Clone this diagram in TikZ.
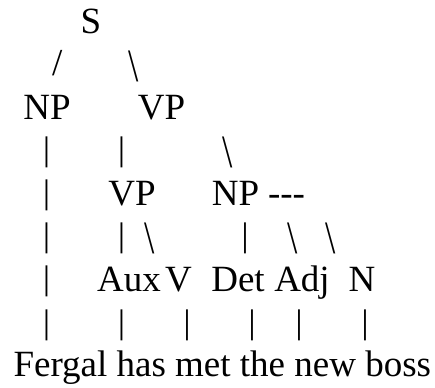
\documentclass[tikz,border=0pt]{standalone}
\usepackage{fontspec}
\usepackage{graphicx}
\setmainfont{Liberation Serif}
\newcommand{\vbar}{\resizebox*{\width}{31pt}{|}}
\newcommand{\bslash}{\resizebox*{\width}{31pt}{\textbackslash}}
\newcommand{\fslash}{\resizebox*{\width}{25.5pt}{/}}
\begin{document}
\begin{tikzpicture}[x=1pt,y=-1pt,
  every node/.style={inner sep=0pt,outer sep=0pt,anchor=base,font=\fontsize{37}{43}\selectfont},
  cat/.style={},
  link/.style={anchor=south}]
\useasboundingbox (0,0) rectangle (435,387);
% row 1
\node[cat] (S) at (91,34) {S};
% row 2
\node[link] (s-np) at (57.7,76) {\fslash};
\node[link] (s-vp) at (134,81.7) {\bslash};
% row 3
\node[cat] (NP1) at (47,120) {NP};
\node[cat] (VP1) at (161.5,120) {VP};
% row 4
\node[link] (a4) at (46.5,167.7) {\vbar};
\node[link] (b4) at (121.5,167.7) {\vbar};
\node[link] (c4) at (227.2,167.7) {\bslash};
% row 5
\node[link] (a5) at (46.5,210.8) {\vbar};
\node[cat] (VP2) at (132,205.8) {VP};
\node[cat] (NP2) at (235.5,205.8) {NP};
\node[cat,anchor=base west] (dash) at (268,205.8) {-{}-{}-};
% row 6
\node[link] (a6) at (46.5,253.5) {\vbar};
\node[link] (b6) at (121.5,253.5) {\vbar};
\node[link] (c6) at (150,253.5) {\bslash};
\node[link] (d6) at (245,253.5) {\vbar};
\node[link] (e6) at (292.5,253.5) {\bslash};
\node[link] (f6) at (330.5,253.5) {\bslash};
% row 7
\node[link] (a7) at (46.5,296.6) {\vbar};
\node[cat] (Aux) at (129,291.6) {Aux};
\node[cat] (V) at (178.5,291.6) {V};
\node[cat] (Det) at (238,291.6) {Det};
\node[cat] (Adj) at (302,291.6) {Adj};
\node[cat] (N) at (362,291.6) {N};
% row 8
\node[link] (a8) at (46.5,340.5) {\vbar};
\node[link] (b8) at (121.5,340.5) {\vbar};
\node[link] (c8) at (187,340.5) {\vbar};
\node[link] (d8) at (252,340.5) {\vbar};
\node[link] (e8) at (299,340.5) {\vbar};
\node[link] (f8) at (365,340.5) {\vbar};
% row 9
\node[anchor=base west] (words) at (13.5,376.5) {Fergal has met the new boss};
\end{tikzpicture}
\end{document}
